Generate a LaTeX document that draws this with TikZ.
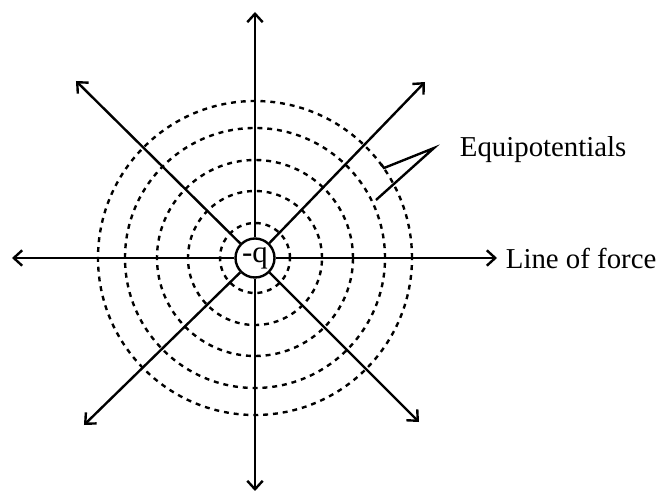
\documentclass[tikz,border=0pt]{standalone}
\usepackage{fontspec}
\setmainfont{Liberation Serif}
\usetikzlibrary{arrows.meta}

\begin{document}
\begin{tikzpicture}[>={Straight Barb[length=6pt,width=11pt]},x=0.025cm,y=0.025cm,line width=1.7pt,font=\fontsize{20.5}{25}\selectfont]
  \useasboundingbox (-255,-233) rectangle (407,258);
  % equipotential surfaces: five dashed circles round the charge
  \foreach \r in {35,67,98,130,157}
    \draw[dash pattern=on 3.5pt off 3.5pt] (0,0) circle (\r);
  \node[draw,circle,fill=white,inner sep=0pt,minimum size=39*0.025cm,font=\fontsize{22}{26}\selectfont] (q) at (0,0) {-q};
  % lines of force, end points of the eight arrows
  \coordinate (n) at (0,246);
  \coordinate (s) at (0,-233);
  \coordinate (e) at (242,0);
  \coordinate (w) at (-243,0);
  \coordinate (ne) at (170,176);
  \coordinate (nw) at (-179,177);
  \coordinate (se) at (164,-164);
  \coordinate (sw) at (-171,-167);
  \foreach \p in {n,s,e,w,ne,nw,se,sw}
    \draw[->] (q) -- (\p);
  \node[anchor=west] (lof) at (245,0) {Line of force};
  % label with its pointer
  \node[anchor=west] (eq) at (199,108) {Equipotentials};
  \coordinate (tip) at (179,110);
  \coordinate (a) at (129,90);
  \coordinate (b) at (121,58);
  \draw (126,94) -- (a) -- (tip) -- (b);
\end{tikzpicture}
\end{document}
